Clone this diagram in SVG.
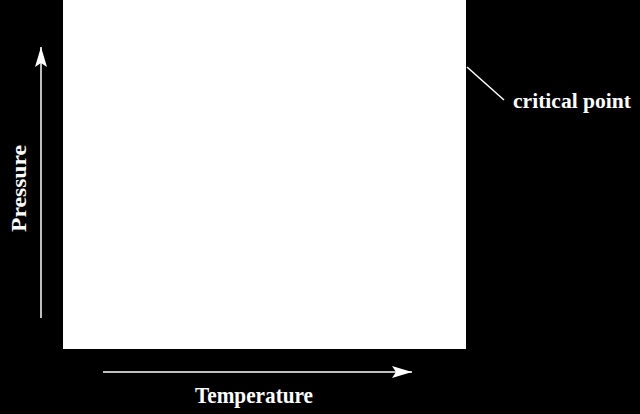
<svg xmlns="http://www.w3.org/2000/svg" width="640" height="414" viewBox="0 0 640 414">
<defs>
<style>
.lbl{font-family:"Liberation Serif","Times New Roman",serif;font-weight:bold;fill:#fff}
.ln{stroke:#fff;stroke-width:1.5;fill:none}
</style>
<marker id="ah" markerWidth="20" markerHeight="12" refX="20" refY="6" orient="auto" markerUnits="userSpaceOnUse">
<path d="M0,0 L20,6 L0,12 L4,6 Z" fill="#fff"/>
</marker>
</defs>
<rect x="0" y="0" width="640" height="414" fill="#000"/>
<g id="region">
<rect x="63" y="0" width="403" height="349" fill="#fff"/>
</g>
<g id="critical-point">
<text class="lbl" x="513" y="108" font-size="20" textLength="118" lengthAdjust="spacingAndGlyphs">critical point</text>
</g>
<g id="pressure-label">
<text class="lbl" transform="translate(25.5,232) rotate(-90)" x="0" y="0" font-size="22" textLength="87" lengthAdjust="spacingAndGlyphs">Pressure</text>
</g>
<g id="temperature-label">
<text class="lbl" x="195" y="403" font-size="23" textLength="118" lengthAdjust="spacingAndGlyphs">Temperature</text>
</g>
<g id="connectors">
<line class="ln" x1="41" y1="318" x2="41" y2="47" marker-end="url(#ah)"/>
<line class="ln" x1="103" y1="372" x2="412" y2="372" marker-end="url(#ah)"/>
<line class="ln" x1="467" y1="67" x2="504" y2="100"/>
</g>
</svg>
